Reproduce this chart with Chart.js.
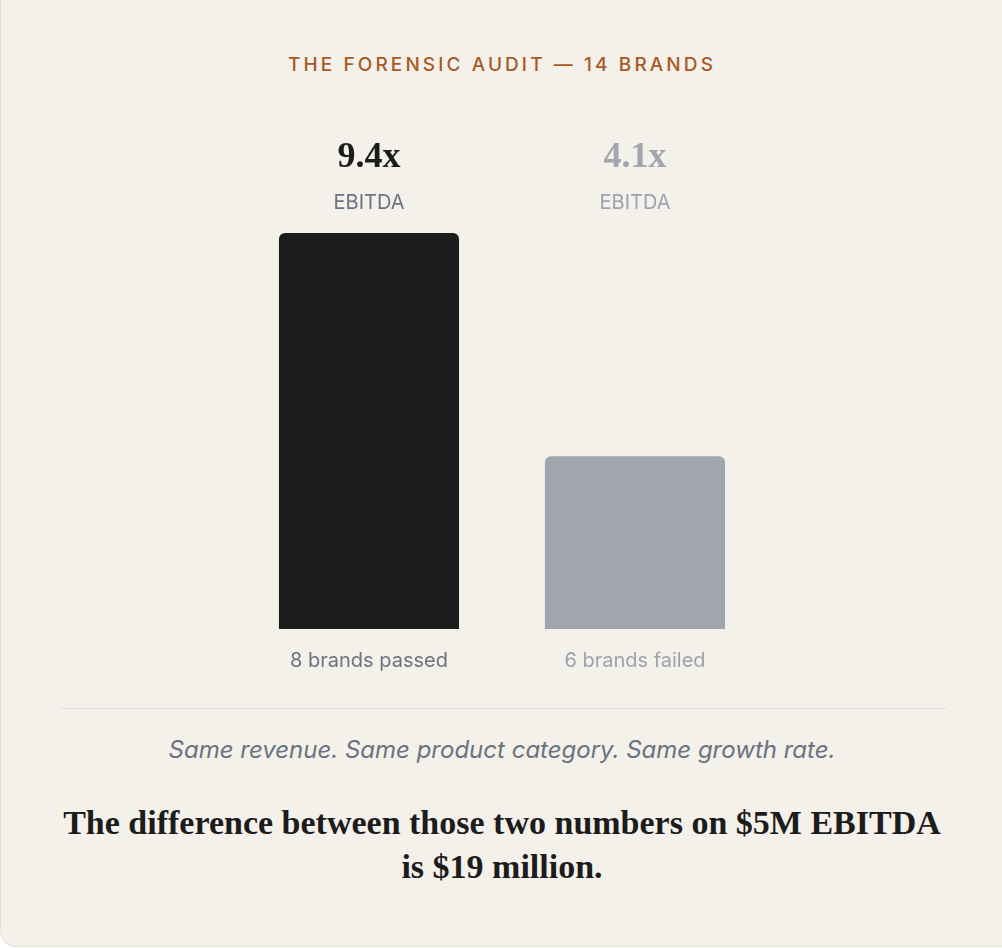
<!DOCTYPE html>
<html lang="en">

<head>
    <script src="https://cdn.jsdelivr.net/npm/chart.js@4.4.1/dist/chart.umd.min.js"></script>

    <style>
        body { margin: 0; background: #ffffff; font-family: Inter, "Noto Sans", sans-serif; }
        .card {
            position: absolute; left: 0; top: -20px; width: 1020px; height: 967px;
            background: #f4f0ea; border: 1px solid #e3dfd9; border-radius: 16px; box-sizing: border-box;
            overflow: hidden;
        }
        .title {
            position: absolute; top: 72px; left: 0; width: 1002px; text-align: center;
            font-size: 19px; letter-spacing: 3.1px; font-weight: 500; color: #a85a26;
        }
        .chartBox { position: absolute; left: 235px; top: 140px; width: 532px; height: 580px; }
        .rule { position: absolute; left: 58px; width: 888px; top: 727px; height: 1px; background: #e4e2df; }
        .note {
            position: absolute; top: 754px; left: 0; width: 1002px; text-align: center;
            font-size: 24px; font-style: italic; color: #6b7280;
        }
        .punch {
            position: absolute; top: 820px; left: 0; width: 1002px; text-align: center;
            font-family: "Liberation Serif", serif; font-weight: bold; font-size: 34px; line-height: 44px; color: #1c1c1c;
        }
    </style>
</head>

<body>
    <div class="card">
        <div class="title">THE FORENSIC AUDIT — 14 BRANDS</div>

        <div class="chartBox"><canvas id="auditChart"></canvas></div>

        <div class="rule"></div>
        <div class="note">Same revenue. Same product category. Same growth rate.</div>
        <div class="punch">The difference between those two numbers on $5M EBITDA<br>is $19 million.</div>
    </div>

    <script>
        // chart data
        const groups = ["8 brands passed", "6 brands failed"];
        const multiples = [9.4, 4.1];
        const valueLabels = ["9.4x", "4.1x"];
        const barColors = ["#1c1c1c", "#a1a5ae"];
        const textColors = ["#6b7280", "#9ca3af"];
        const headColors = ["#1c1c1c", "#a1a5ae"];

        // value + "EBITDA" above each bar
        const topLabels = {
            id: 'topLabels',
            afterDatasetsDraw(chart) {
                const { ctx } = chart;
                const bars = chart.getDatasetMeta(0).data;
                ctx.save();
                ctx.textAlign = 'center';
                ctx.textBaseline = 'middle';
                bars.forEach((bar, i) => {
                    ctx.fillStyle = headColors[i];
                    ctx.font = 'bold 36px "Liberation Serif", serif';
                    ctx.fillText(valueLabels[i], bar.x, 37);
                    ctx.fillStyle = textColors[i];
                    ctx.font = '20px Inter, sans-serif';
                    ctx.fillText("EBITDA", bar.x, 82);
                });
                ctx.restore();
            }
        };

        new Chart(document.getElementById("auditChart"), {
            type: 'bar',
            data: {
                labels: groups,
                datasets: [{
                    data: multiples,
                    backgroundColor: barColors,
                    borderRadius: 6,
                    categoryPercentage: 1,
                    barPercentage: 0.677,
                }]
            },
            options: {
                responsive: true,
                maintainAspectRatio: false,
                animation: false,
                layout: { padding: { top: 112, left: 0, right: 0, bottom: 0 } },
                plugins: { legend: { display: false }, tooltip: { enabled: false } },
                scales: {
                    y: { display: false, min: 0, max: 9.4 },
                    x: {
                        grid: { display: false },
                        border: { display: false },
                        afterFit: s => { s.height = 72; },
                        ticks: {
                            padding: 12,
                            font: { family: 'Inter', size: 20 },
                            color: c => textColors[c.index]
                        }
                    }
                }
            },
            plugins: [topLabels]
        });
    </script>
</body>

</html>
